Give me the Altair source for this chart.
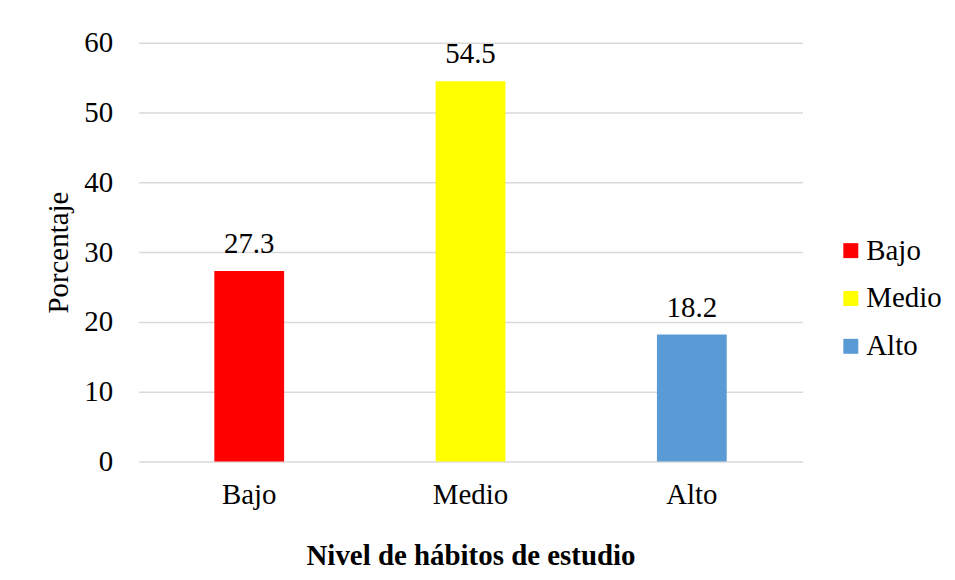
import altair as alt
import pandas as pd

categories = ["Bajo", "Medio", "Alto"]
values = [27.3, 54.5, 18.2]
colors = ["#FF0000", "#FFFF00", "#5B9BD5"]
y_ticks = [0, 10, 20, 30, 40, 50, 60]

df = pd.DataFrame({"Nivel": categories, "Porcentaje": values})
df["label"] = [f"{v:.1f}" for v in values]

FONT = "Liberation Serif"
FS = 29

x = alt.X("Nivel:N", sort=categories,
          title="Nivel de hábitos de estudio",
          axis=alt.Axis(labelAngle=0, labelFontSize=FS, labelFont=FONT, labelColor="#000",
                        titleFontSize=FS, titleFont=FONT, titleFontWeight="bold", titleColor="#000",
                        labelPadding=19, titlePadding=32, domain=False, ticks=False, grid=False))
y = alt.Y("Porcentaje:Q", scale=alt.Scale(domain=[0, 60]),
          title="Porcentaje",
          axis=alt.Axis(values=y_ticks, labelFontSize=FS, labelFont=FONT, labelColor="#000",
                        titleFontSize=FS, titleFont=FONT, titleFontWeight="normal", titleColor="#000",
                        labelPadding=26, titlePadding=10, domain=False, ticks=False,
                        grid=True, gridColor="#D9D9D9", gridWidth=1.5))

bars = alt.Chart(df).mark_bar(size=70).encode(
    x=x, y=y,
    color=alt.Color("Nivel:N", sort=categories,
                    scale=alt.Scale(domain=categories, range=colors),
                    legend=alt.Legend(title=None, orient="none", legendX=700, legendY=194,
                                      symbolType="square", symbolSize=225, symbolStrokeWidth=0,
                                      labelFontSize=FS, labelFont=FONT, labelColor="#000",
                                      rowPadding=18, labelOffset=1)),
)

text = alt.Chart(df).mark_text(baseline="alphabetic", dy=-18, fontSize=FS, font=FONT, color="#000").encode(
    x=alt.X("Nivel:N", sort=categories), y=alt.Y("Porcentaje:Q"), text="label:N")

chart = alt.layer(bars, text).properties(
    width=666, height=420,
    autosize=alt.AutoSizeParams(type="none"),
    padding={"left": 131, "top": 34, "right": 145, "bottom": 110},
).configure(background="white", font=FONT).configure_view(stroke=None)

chart.save("out.html", embed_options={"renderer": "svg", "actions": False})
